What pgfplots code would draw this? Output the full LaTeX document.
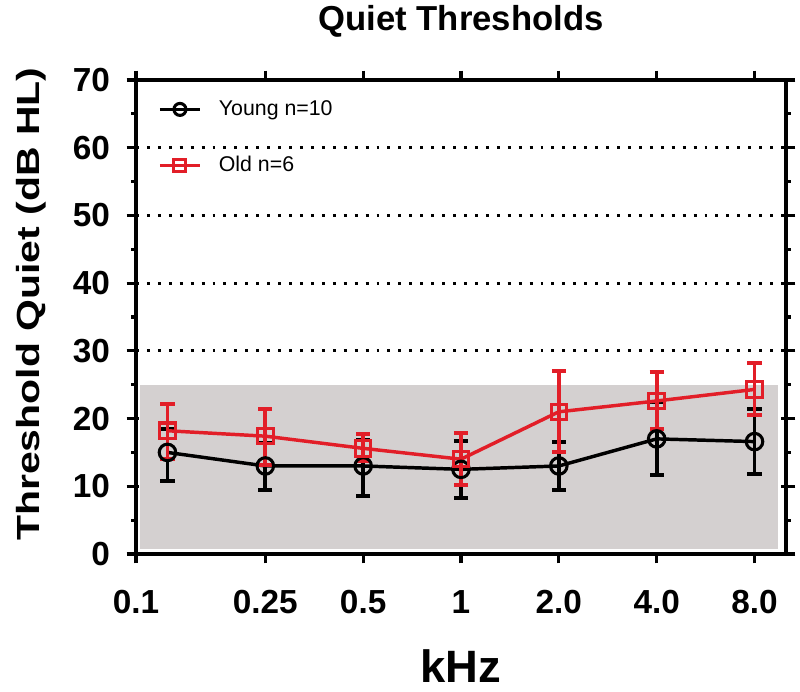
\documentclass[border=0pt]{standalone}
\usepackage{pgfplots}
\pgfplotsset{compat=1.18}
\usepackage{fontspec}
\setmainfont{Liberation Sans}
\definecolor{oldred}{RGB}{226,30,40}
\definecolor{boxgray}{RGB}{212,208,208}
\begin{document}
\begin{tikzpicture}
\begin{axis}[
    scale only axis,
    width=487.5pt, height=355.5pt,
    xmode=log, xmin=0.1, xmax=10,
    ymin=0, ymax=70,
    xtick={0.1,0.25,0.5,1,2,4,8},
    xticklabels={0.1,0.25,0.5,1,2.0,4.0,8.0},
    minor xtick={},
    ytick={0,10,...,70},
    yticklabels={0,10,20,30,40,50,60,70},
    minor ytick={5,15,...,65},
    tick align=outside,
    major tick length=7pt, minor tick length=3.5pt,
    tick style={black, line width=2.4pt},
    axis line style={line width=2.8pt},
    ymajorgrids,
    major grid style={black, line width=2.2pt, dash pattern=on 2.2pt off 6pt},
    ticklabel style={font=\fontsize{25}{25}\selectfont\bfseries},
    xticklabel style={yshift=-17pt},
    yticklabel style={xshift=-9pt},
    /pgf/number format/assume math mode=true,
    title={Quiet Thresholds},
    title style={font=\fontsize{26}{26}\selectfont\bfseries, at={(0.5,1.1055)}, anchor=base, yshift=-6pt},
    xlabel={kHz},
    xlabel style={font=\fontsize{34}{34}\selectfont\bfseries, at={(0.5,-0.272)}, anchor=base},
    ylabel={\scalebox{1.28}[1]{Threshold Quiet (dB HL)}},
    ylabel style={font=\fontsize{24}{24}\selectfont\bfseries, at={(-0.1477,0.527)}, anchor=base},
    legend style={at={(axis description cs:0.034,0.962)}, anchor=north west,
        draw=none, fill=none, inner sep=0pt,
        font=\fontsize{16}{19}\selectfont, row sep=25pt,
        /tikz/every odd column/.append style={column sep=11pt}},
    legend cell align=left,
    legend image code/.code={
        \draw[mark repeat=2, mark phase=2, mark size=4.5pt, line width=2.4pt]
        plot coordinates {(0pt,0pt) (15pt,0pt) (30pt,0pt)};},
]

% normal-hearing range
\addplot[fill=boxgray, draw=none, forget plot] coordinates {
    (0.103,0.7) (9.44,0.7) (9.44,25) (0.103,25)
};

% young listeners
\addplot[black, line width=2.6pt, mark=o, mark size=6.2pt,
    mark options={line width=2.3pt, solid},
    error bars/.cd, y dir=both, y explicit,
    error bar style={line width=2.8pt},
    error mark options={line width=3pt, mark size=5.3pt, rotate=90},
] coordinates {
    (0.125,15.0) += (0,3.4) -= (0,4.2)
    (0.25,13.0) += (0,3.35) -= (0,3.6)
    (0.5,13.0) += (0,3.8) -= (0,4.4)
    (1,12.5) += (0,4.2) -= (0,4.3)
    (2,13.0) += (0,3.5) -= (0,3.55)
    (4,17.0) += (0,5.4) -= (0,5.3)
    (8,16.6) += (0,4.8) -= (0,4.8)
};
\addlegendentry{Young n=10}

% older listeners
\addplot[oldred, line width=2.6pt, mark=square, mark size=5.8pt,
    mark options={line width=2.3pt, solid},
    error bars/.cd, y dir=both, y explicit,
    error bar style={line width=2.8pt},
    error mark options={line width=3pt, mark size=5.3pt, rotate=90},
] coordinates {
    (0.125,18.2) += (0,3.9) -= (0,4.2)
    (0.25,17.4) += (0,4.0) -= (0,4.3)
    (0.5,15.6) += (0,2.1) -= (0,1.9)
    (1,14.0) += (0,3.8) -= (0,3.75)
    (2,21.0) += (0,6.0) -= (0,6.0)
    (4,22.6) += (0,4.3) -= (0,4.2)
    (8,24.3) += (0,3.9) -= (0,3.8)
};
\addlegendentry{Old n=6}

\end{axis}
\pgfresetboundingbox
\path[use as bounding box] (-102pt,-103.5pt) rectangle (498pt,415.5pt);
\end{tikzpicture}
\end{document}
